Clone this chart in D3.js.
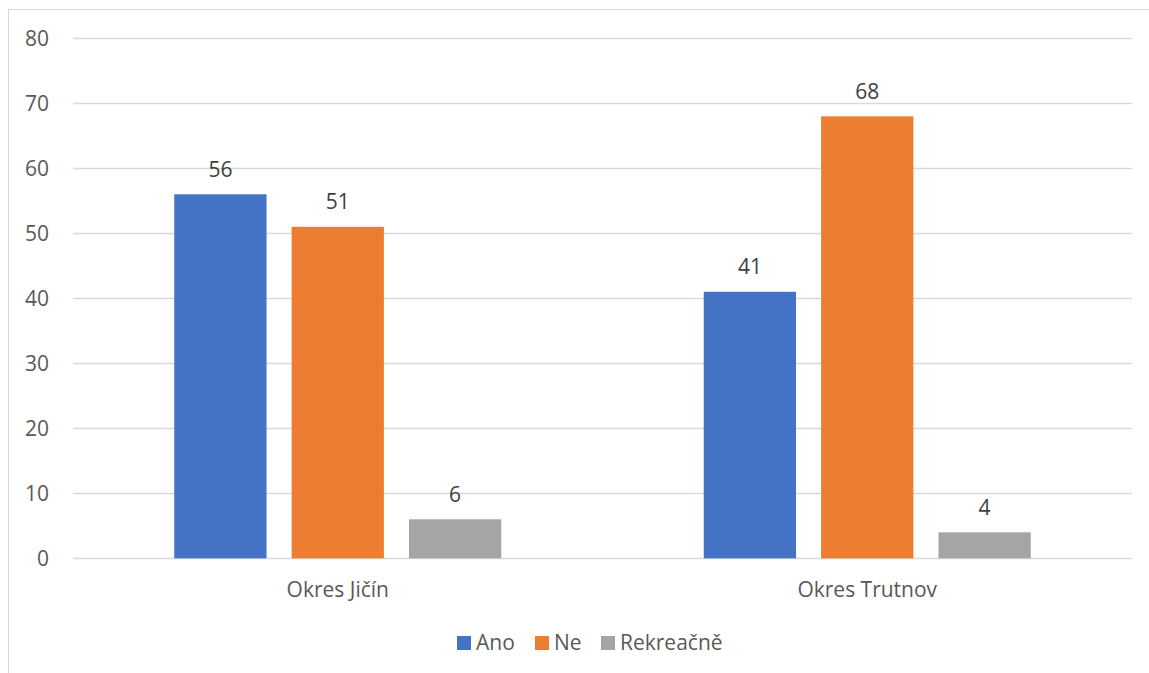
<!DOCTYPE html>
<html><head><meta charset="utf-8">
<script src="https://cdn.jsdelivr.net/npm/d3@7"></script>
<style>body{margin:0;background:#fff;}svg{display:block;font-family:"Open Sans",sans-serif;}</style>
</head><body>
<svg id="c" width="1149" height="673"></svg>
<script>
const categories = ["Okres Jičín", "Okres Trutnov"];
const seriesNames = ["Ano", "Ne", "Rekreačně"];
const ano = [56, 41];
const ne = [51, 68];
const rekreacne = [6, 4];
const yTicks = [0, 10, 20, 30, 40, 50, 60, 70, 80];
const colors = ["#4472C4", "#ED7D31", "#A5A5A5"];

(function () {
const seriesValues = [ano, ne, rekreacne];
const fs = 21;
const svg = d3.select("#c");
svg.append("rect").attr("x", 8.5).attr("y", 9.5).attr("width", 1200).attr("height", 800)
  .attr("fill", "none").attr("stroke", "#d9d9d9").attr("stroke-width", 1);

const pLeft = 73, pRight = 1132, pTop = 38.3, pBottom = 558.3;
const y = d3.scaleLinear().domain([0, 80]).range([pBottom, pTop]);
const x0 = d3.scaleBand().domain(categories).range([pLeft, pRight]).paddingInner(0).paddingOuter(0);
const groupW = 327;
const x1 = d3.scaleBand().domain(seriesNames).range([0, groupW]).paddingInner(25/117).paddingOuter(0);

svg.append("g").selectAll("line").data(yTicks).join("line")
  .attr("x1", pLeft).attr("x2", pRight)
  .attr("y1", d => Math.round(y(d)) + 0.5).attr("y2", d => Math.round(y(d)) + 0.5)
  .attr("stroke", "#d9d9d9").attr("stroke-width", 1.3);

const yAxis = d3.axisLeft(y).tickValues(yTicks).tickSize(0).tickPadding(0);
const ya = svg.append("g").attr("transform", `translate(${pLeft - 24},0)`).call(yAxis);
ya.select(".domain").remove();
ya.selectAll("text").attr("fill", "#595959").attr("font-size", fs).attr("font-family", "Open Sans").attr("dy", "0.35em");

const groups = svg.append("g").selectAll("g").data(categories).join("g")
  .attr("transform", d => `translate(${x0(d) + (x0.bandwidth() - groupW) / 2},0)`);
groups.each(function(cat, ci) {
  const g = d3.select(this);
  seriesNames.forEach((s, si) => {
    const v = seriesValues[si][ci];
    g.append("rect").attr("x", x1(s)).attr("width", x1.bandwidth())
      .attr("y", y(v)).attr("height", y(0) - y(v)).attr("fill", colors[si]);
    g.append("text").attr("x", x1(s) + x1.bandwidth() / 2).attr("y", y(v) - 17.5)
      .attr("text-anchor", "middle").attr("fill", "#404040").attr("font-size", fs).text(v);
  });
});

const xAxis = d3.axisBottom(x0).tickSize(0).tickPadding(0);
const xa = svg.append("g").attr("transform", `translate(0,${pBottom})`).call(xAxis);
xa.select(".domain").remove();
xa.selectAll("text").attr("fill", "#595959").attr("font-size", fs).attr("font-family", "Open Sans").attr("dy", "0").attr("y", 38.7);

const legendX = [457, 535, 601];
const lg = svg.append("g");
seriesNames.forEach((s, i) => {
  lg.append("rect").attr("x", legendX[i]).attr("y", 636).attr("width", 14).attr("height", 14).attr("fill", colors[i]);
  lg.append("text").attr("x", legendX[i] + 19).attr("y", 650).attr("fill", "#595959").attr("font-size", fs).text(s);
});
})();
</script>
</body></html>
